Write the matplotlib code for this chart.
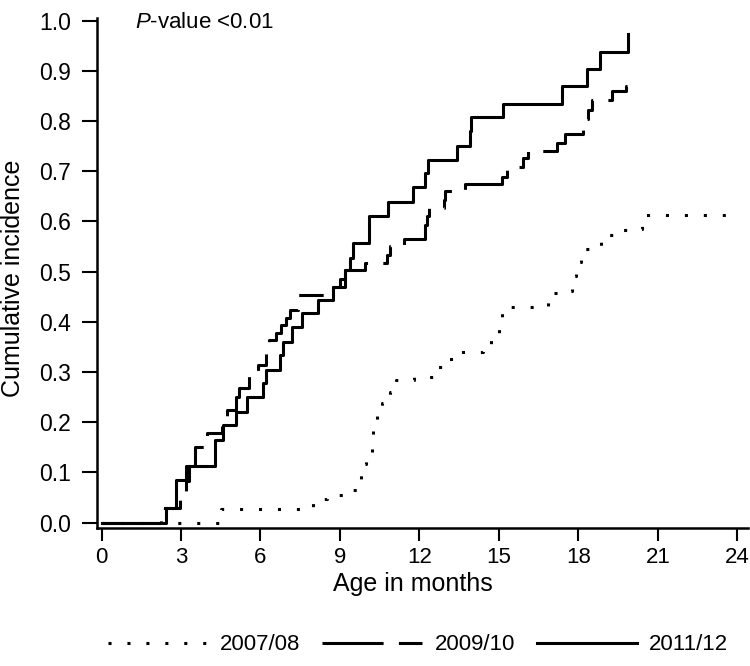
import numpy as np
import matplotlib
matplotlib.use("Agg")
import matplotlib.pyplot as plt

plt.rcParams['font.family'] = ['Liberation Sans', 'DejaVu Sans']
plt.rcParams['mathtext.fontset'] = 'custom'
plt.rcParams['mathtext.it'] = 'Liberation Sans:italic'
plt.rcParams['mathtext.rm'] = 'Liberation Sans'

# step data (months, cumulative incidence)
t_0708 = [0, 4.5, 8.0, 8.5, 9.3, 9.7, 9.8, 10.0, 10.2, 10.25, 10.4, 10.6, 10.9, 11.1,
          11.8, 12.6, 13.1, 13.5, 14.4, 14.7, 15.0, 15.1, 16.85, 17.6, 17.75, 17.9,
          18.1, 18.6, 18.85, 19.3, 20.1, 20.4, 24.0]
y_0708 = [0, 0.027, 0.047, 0.055, 0.065, 0.085, 0.116, 0.14, 0.162, 0.198, 0.226, 0.239,
          0.261, 0.284, 0.29, 0.31, 0.325, 0.34, 0.355, 0.37, 0.40, 0.43, 0.458, 0.462,
          0.492, 0.52, 0.545, 0.551, 0.572, 0.582, 0.584, 0.613, 0.613]

t_0910 = [0, 2.23, 2.96, 3.06, 3.2, 3.3, 3.53, 3.98, 4.55, 4.72, 5.07, 5.2, 5.55, 5.9,
          6.2, 6.33, 6.6, 6.76, 6.98, 7.1, 7.4, 8.74, 9.0, 9.2, 9.96, 10.79, 10.9, 11.4,
          12.2, 12.3, 12.37, 12.92, 12.95, 13.72, 15.11, 15.3, 15.9, 16.1, 17.19, 17.49,
          18.17, 18.36, 18.5, 19.26, 19.8, 19.85]
y_0910 = [0, 0.029, 0.045, 0.061, 0.082, 0.113, 0.151, 0.179, 0.195, 0.224, 0.251, 0.268,
          0.298, 0.314, 0.344, 0.364, 0.378, 0.394, 0.408, 0.424, 0.454, 0.47, 0.485, 0.503,
          0.517, 0.533, 0.55, 0.565, 0.593, 0.61, 0.627, 0.643, 0.66, 0.674, 0.689, 0.709,
          0.726, 0.74, 0.756, 0.774, 0.804, 0.822, 0.842, 0.86, 0.87, 0.87]

t_1112 = [0, 2.43, 2.81, 3.19, 4.28, 4.58, 5.08, 5.49, 6.09, 6.21, 6.74, 6.85, 7.19, 7.57,
          8.17, 8.74, 9.19, 9.38, 9.49, 10.09, 10.81, 11.75, 12.21, 12.32, 13.43, 13.91,
          13.94, 15.15, 17.38, 18.32, 18.81, 19.87]
y_1112 = [0, 0.029, 0.084, 0.113, 0.165, 0.195, 0.221, 0.251, 0.278, 0.304, 0.334, 0.36,
          0.39, 0.417, 0.443, 0.47, 0.503, 0.527, 0.557, 0.611, 0.639, 0.668, 0.696, 0.722,
          0.75, 0.779, 0.808, 0.834, 0.869, 0.903, 0.938, 0.973]

labels = ['2007/08', '2009/10', '2011/12']

fig = plt.figure(figsize=(7.5, 6.66), dpi=100)
ax = fig.add_axes([97/750, 1 - 528/666, 651/750, 510/666])

lw = 2.2
ax.step(t_0708, y_0708, where='post', color='black', lw=lw,
        linestyle=(0, (1, 5.2)), label=labels[0])
ax.step(t_0910, y_0910, where='post', color='black', lw=lw,
        linestyle=(0, (20, 5, 8, 5)), label=labels[1])
ax.step(t_1112, y_1112, where='post', color='black', lw=lw,
        linestyle='-', label=labels[2])

ax.set_xlim(-0.17, 24.4)
ax.set_ylim(-0.0106, 1.005)
ax.set_xticks(np.arange(0, 25, 3))
ax.set_yticks(np.arange(0, 1.01, 0.1))
ax.set_yticklabels(['%.1f' % v for v in np.arange(0, 1.01, 0.1)])

for s in ['top', 'right']:
    ax.spines[s].set_visible(False)
for s in ['left', 'bottom']:
    ax.spines[s].set_linewidth(1.8)
ax.tick_params(axis='y', length=11, width=1.5, pad=7.5, labelsize=16.5)
ax.tick_params(axis='x', length=9.5, width=1.5, pad=4, labelsize=16)

ax.text(1.26, 0.997, r'$\mathit{P}$-value <0.01', ha='left', va='center', fontsize=16)

fig.text(13/750, 1 - 278/666, 'Cumulative incidence', rotation=90,
         ha='center', va='center', fontsize=18)
fig.text(413/750, 1 - 584/666, 'Age in months', ha='center', va='center', fontsize=18)

fig.legend(loc='center', bbox_to_anchor=(418/750, 1 - 645/666), ncol=3, frameon=False,
           fontsize=16, handlelength=4.5, handletextpad=0.55, columnspacing=1.0)

fig.savefig('out.png', dpi=100)
